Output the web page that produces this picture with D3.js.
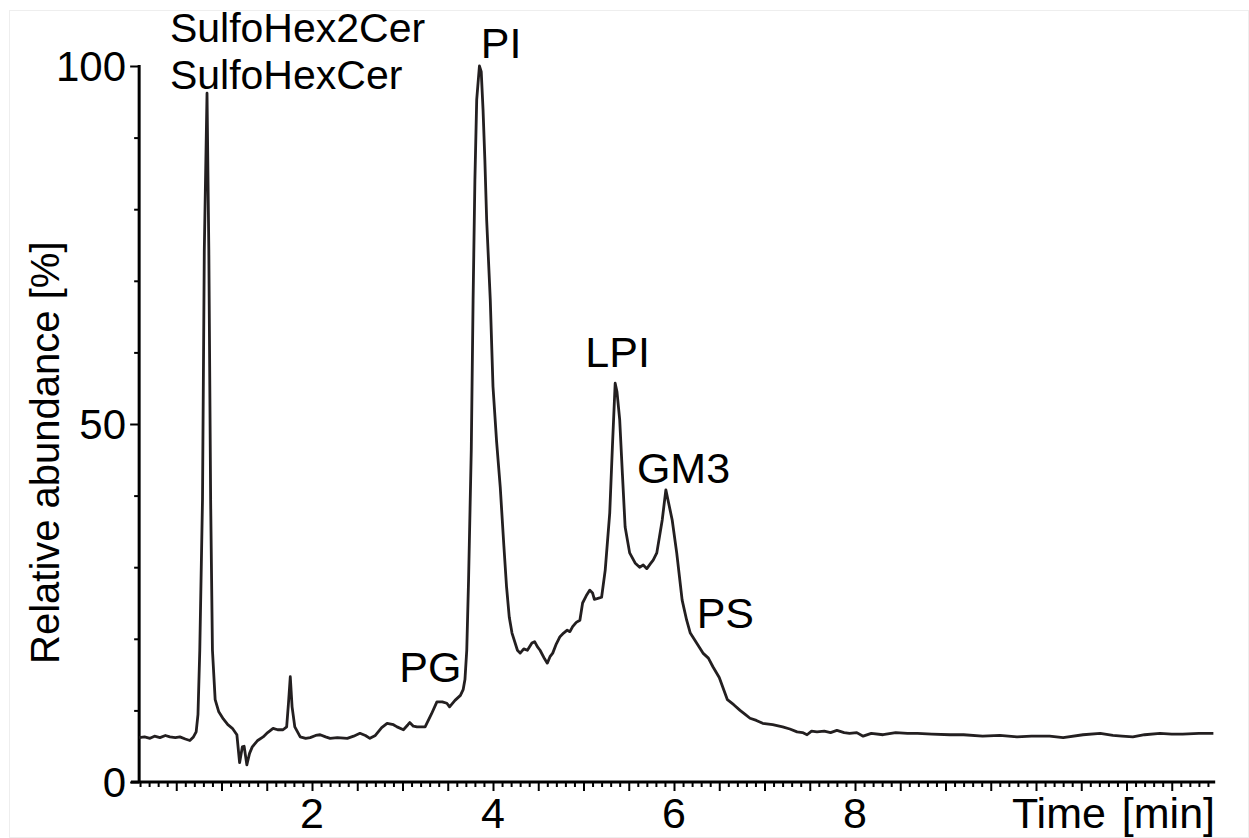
<!DOCTYPE html>
<html>
<head>
<meta charset="utf-8">
<script src="https://cdn.jsdelivr.net/npm/d3@7/dist/d3.min.js"></script>
<style>
  html, body { margin: 0; padding: 0; background: #fff; }
  svg { display: block; }
  text { font-family: "Liberation Sans", Arial, sans-serif; fill: #000; }
</style>
</head>
<body>
<svg id="chart" width="1249" height="838"></svg>
<script>
// ---- data ----
const time = [0.09,0.15,0.21,0.26,0.32,0.38,0.43,0.49,0.54,0.60,0.65,0.69,0.72,0.74,0.76,0.79,0.81,0.84,0.86,0.88,0.90,0.93,0.97,1.02,1.07,1.12,1.17,1.20,1.23,1.25,1.28,1.31,1.34,1.40,1.46,1.51,1.57,1.62,1.68,1.72,1.74,1.76,1.78,1.81,1.87,1.93,1.98,2.04,2.09,2.15,2.20,2.28,2.39,2.46,2.53,2.59,2.64,2.70,2.77,2.83,2.90,2.94,3.01,3.06,3.08,3.12,3.16,3.25,3.32,3.38,3.44,3.49,3.52,3.58,3.64,3.67,3.69,3.71,3.73,3.76,3.78,3.80,3.82,3.85,3.87,3.89,3.91,3.93,3.97,4.00,4.04,4.08,4.12,4.15,4.18,4.21,4.27,4.30,4.34,4.38,4.43,4.46,4.49,4.52,4.57,4.60,4.63,4.66,4.70,4.74,4.78,4.82,4.85,4.88,4.92,4.96,4.99,5.03,5.07,5.10,5.12,5.15,5.20,5.24,5.29,5.32,5.35,5.37,5.40,5.43,5.46,5.51,5.57,5.62,5.66,5.70,5.74,5.77,5.81,5.87,5.91,5.94,5.98,6.03,6.09,6.14,6.18,6.25,6.32,6.38,6.43,6.50,6.59,6.66,6.73,6.79,6.84,6.91,6.98,7.09,7.20,7.28,7.36,7.42,7.47,7.52,7.58,7.66,7.73,7.80,7.88,7.94,8.02,8.09,8.18,8.31,8.45,8.58,8.69,8.85,9.05,9.20,9.41,9.60,9.79,9.95,10.15,10.30,10.52,10.71,10.85,10.95,11.07,11.20,11.37,11.50,11.62,11.80,11.96];
const abundance = [6.2,6.3,6.1,6.4,6.2,6.5,6.3,6.2,6.3,6.0,5.8,6.3,7.0,9.4,18.4,39.4,74.3,96.2,74.3,39.4,18.4,11.5,9.8,8.8,8.0,7.5,6.6,2.7,4.9,5.0,2.4,4.0,4.9,5.8,6.3,6.9,7.5,7.3,7.3,7.7,11.0,14.7,10.5,7.7,6.3,6.1,6.2,6.5,6.6,6.3,6.1,6.2,6.1,6.4,6.8,6.5,6.1,6.5,7.6,8.2,8.0,7.7,7.3,8.0,8.3,7.8,7.7,7.7,9.5,11.2,11.2,11.0,10.5,11.4,12.1,12.9,14.3,18.4,28.2,46.4,67.3,84.1,95.3,100,99.2,93.9,86.9,78.5,67.3,55.2,47.5,41.2,33.0,27.2,23.0,20.8,18.4,18.0,18.6,18.4,19.4,19.6,18.9,18.4,17.2,16.6,17.5,18.0,19.3,20.3,20.8,21.2,21.0,21.7,22.3,22.6,25.0,26.0,26.8,26.4,25.5,25.6,25.8,29.6,37.6,47.0,55.7,54.5,50.6,43.0,35.6,32.0,30.6,30.0,30.3,29.8,30.5,31.0,32.0,36.6,40.8,39.0,36.6,32.0,25.4,22.6,20.8,19.4,18.0,17.3,16.1,14.6,11.5,10.8,10.0,9.4,8.9,8.6,8.2,8.0,7.7,7.4,7.0,6.9,6.6,7.1,7.0,7.1,6.9,7.2,6.9,6.8,6.9,6.4,6.8,6.6,6.9,6.8,6.8,6.7,6.6,6.6,6.4,6.5,6.3,6.4,6.4,6.2,6.6,6.8,6.5,6.4,6.3,6.6,6.8,6.7,6.7,6.8,6.8];

const xLabelTicks = [2, 4, 6, 8];
const yLabelTicks = [0, 50, 100];
const peakNames = [["SulfoHex2Cer", "SulfoHexCer"], ["PI"], ["PG"], ["LPI"], ["GM3"], ["PS"]];
const peakTimes = [0.43, 3.865, 2.965, 5.02, 5.59, 6.25];
const peakLevels = [103.3, 101.1, 14.0, 57.9, 41.7, 21.5];

// ---- layout ----
const svg = d3.select("#chart");
const FS = 43;
const x = d3.scaleLinear().domain([0, 12]).range([131, 131 + 90.5 * 12]);
const y = d3.scaleLinear().domain([0, 100]).range([782, 66]);
const xMin = 0.09, xMax = 11.98;

svg.append("rect").attr("x", 9.5).attr("y", 10.5).attr("width", 1239).attr("height", 827)
  .attr("fill", "none").attr("stroke", "#eeeeee").attr("stroke-width", 1);

// x axis: minor ticks every 0.1, major every 0.5
const minorX = d3.range(1, 120).map(i => i / 10).filter(v => v > xMin && v < xMax && Math.round(v * 10) % 5 !== 0);
const majorX = d3.range(1, 24).map(i => i / 2).filter(v => v < xMax);

const gx = svg.append("g").attr("transform", `translate(0,${y(0)})`);
gx.append("g").call(d3.axisBottom(x).tickValues(minorX).tickSize(5).tickSizeOuter(0).tickFormat(""))
  .call(g => g.select(".domain").remove());
gx.append("g").call(d3.axisBottom(x).tickValues(majorX).tickSize(9).tickSizeOuter(0).tickFormat(""))
  .call(g => g.select(".domain").remove());
gx.selectAll(".tick line").attr("stroke", "#000").attr("stroke-width", 2);
gx.append("line").attr("x1", x(0)).attr("x2", x(xMax)).attr("y1", 0).attr("y2", 0)
  .attr("stroke", "#000").attr("stroke-width", 3);

svg.append("g").selectAll("text").data(xLabelTicks).join("text")
  .attr("x", d => x(d)).attr("y", 828).attr("text-anchor", "middle")
  .attr("font-size", FS).text(d => d);

svg.append("text").attr("x", 1215).attr("y", 828).attr("text-anchor", "end")
  .attr("font-size", FS).attr("word-spacing", 4).text("Time [min]");

// y axis
const gy = svg.append("g").attr("transform", `translate(${x(xMin)},0)`);
gy.append("g").call(d3.axisLeft(y).tickValues(d3.range(10, 100, 10).filter(v => v !== 50)).tickSize(5).tickFormat(""))
  .call(g => g.select(".domain").remove());
gy.append("g").call(d3.axisLeft(y).tickValues(yLabelTicks).tickSize(9).tickFormat(""))
  .call(g => g.select(".domain").remove());
gy.selectAll(".tick line").attr("stroke", "#000").attr("stroke-width", 2);
gy.append("line").attr("x1", 0).attr("x2", 0).attr("y1", y(100) - 1).attr("y2", y(0))
  .attr("stroke", "#000").attr("stroke-width", 3);

svg.append("g").selectAll("text").data(yLabelTicks).join("text")
  .attr("x", 126).attr("y", d => y(d)).attr("dy", "0.36em").attr("text-anchor", "end")
  .attr("font-size", FS - 1).text(d => d);

svg.append("text").attr("transform", "translate(59,664) rotate(-90)")
  .attr("text-anchor", "start").attr("font-size", 40).text("Relative abundance [%]");

// trace
const pts = time.map((t, i) => [t, abundance[i]]);
svg.append("path").datum(pts)
  .attr("fill", "none").attr("stroke", "#231f20").attr("stroke-width", 2.8)
  .attr("stroke-linejoin", "round")
  .attr("d", d3.line().x(d => x(d[0])).y(d => y(d[1])));

// peak labels (multi-line label gets slightly smaller font so its lines don't collide)
const lbl = svg.append("g").selectAll("text").data(peakNames).join("text")
  .attr("font-size", d => d.length > 1 ? 41 : FS);
lbl.each(function (lines, i) {
  const t = d3.select(this);
  lines.forEach((ln, j) => {
    t.append("tspan").attr("x", x(peakTimes[i])).attr("y", y(peakLevels[i]) + j * 47).text(ln);
  });
});
</script>
</body>
</html>
